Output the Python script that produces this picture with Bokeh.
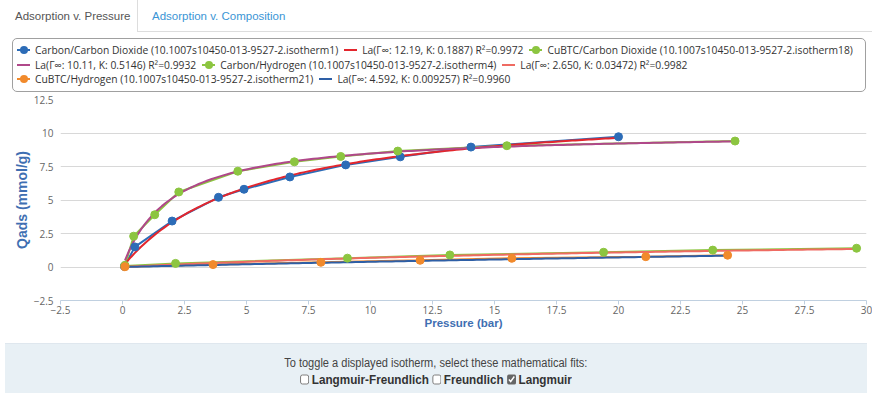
import numpy as np
from bokeh.plotting import figure
from bokeh.layouts import column
from bokeh.models import Range1d, FixedTicker, Div
from bokeh.embed import file_html
from bokeh.resources import INLINE

# ---------------- data ----------------
carbon_co2_p = [0.08, 0.5, 2.0, 3.87, 4.9, 6.75, 9.0, 11.2, 14.05, 20.0]
carbon_co2_q = [0.05, 1.5, 3.43, 5.2, 5.8, 6.72, 7.62, 8.22, 8.95, 9.72]

cubtc_co2_p = [0.1, 0.45, 1.3, 2.27, 4.65, 6.93, 8.8, 11.1, 15.5, 24.7]
cubtc_co2_q = [0.12, 2.3, 3.9, 5.6, 7.15, 7.85, 8.25, 8.65, 9.05, 9.4]

carbon_h2_p = [0.1, 2.14, 9.07, 13.2, 19.4, 23.8, 29.6]
carbon_h2_q = [0.08, 0.27, 0.66, 0.9, 1.1, 1.26, 1.4]

cubtc_h2_p = [0.1, 3.65, 8.0, 12.0, 15.7, 21.1, 24.4]
cubtc_h2_q = [0.02, 0.18, 0.35, 0.5, 0.65, 0.77, 0.88]

# Langmuir fit parameters shown in the legend
fit_gamma = [12.19, 10.11, 2.650, 4.592]
fit_k = [0.1887, 0.5146, 0.03472, 0.009257]

series_names = [
    "Carbon/Carbon Dioxide (10.1007s10450-013-9527-2.isotherm1)",
    "CuBTC/Carbon Dioxide (10.1007s10450-013-9527-2.isotherm18)",
    "Carbon/Hydrogen (10.1007s10450-013-9527-2.isotherm4)",
    "CuBTC/Hydrogen (10.1007s10450-013-9527-2.isotherm21)",
]
fit_names = [
    "La(\u0393\u221e: 12.19, K: 0.1887) R\u00b2=0.9972",
    "La(\u0393\u221e: 10.11, K: 0.5146) R\u00b2=0.9932",
    "La(\u0393\u221e: 2.650, K: 0.03472) R\u00b2=0.9982",
    "La(\u0393\u221e: 4.592, K: 0.009257) R\u00b2=0.9960",
]

x_ticks = [-2.5, 0, 2.5, 5, 7.5, 10, 12.5, 15, 17.5, 20, 22.5, 25, 27.5, 30]
x_tick_labels = ["\u22122.5", "0", "2.5", "5", "7.5", "10", "12.5", "15", "17.5",
                 "20", "22.5", "25", "27.5", "30"]
y_ticks = [-2.5, 0, 2.5, 5, 7.5, 10, 12.5]
y_tick_labels = ["\u22122.5", "0", "2.5", "5", "7.5", "10", "12.5"]

tab_labels = ["Adsorption v. Pressure", "Adsorption v. Composition"]
fit_options = ["Langmuir-Freundlich", "Freundlich", "Langmuir"]
fit_checked = [False, False, True]

# ---------------- styles ----------------
series_colors = ["#2c6cb7", "#8cc540", "#8cc540", "#f18a2c"]
fit_colors = ["#e3262d", "#b0488a", "#ef6b62", "#2e5fa6"]

W = 872

# ---------------- tabs (HTML) ----------------
tabs = Div(width=W, height=34, margin=0, text=(
    '<div style="position:relative;width:872px;height:34px;'
    "font-family:'Liberation Sans',Arial,sans-serif;font-size:11.5px;\">"
    '<div style="position:absolute;left:137px;top:0;width:1px;height:31px;background:#dddddd;"></div>'
    '<div style="position:absolute;left:137px;top:31px;width:735px;height:1px;background:#dddddd;"></div>'
    f'<div style="position:absolute;left:15px;top:9px;line-height:14px;color:#555555;">{tab_labels[0]}</div>'
    f'<div style="position:absolute;left:152px;top:9px;line-height:14px;color:#3a95d5;">{tab_labels[1]}</div>'
    '</div>'))

# ---------------- legend (HTML) ----------------
leg_labels = [series_names[0], fit_names[0], series_names[1],
              fit_names[1], series_names[2], fit_names[2],
              series_names[3], fit_names[3]]
leg_colors = [series_colors[0], fit_colors[0], series_colors[1],
              fit_colors[1], series_colors[2], fit_colors[2],
              series_colors[3], fit_colors[3]]
leg_marker = [True, False, True, False, True, False, True, False]
leg_rows = [[0, 1, 2], [3, 4, 5], [6, 7]]
row_tops = [9, 23.5, 38]


def legend_item(i):
    sym = (f'<span style="position:absolute;left:0;top:6px;width:13px;height:2px;'
           f'background:{leg_colors[i]};"></span>')
    if leg_marker[i]:
        sym += (f'<span style="position:absolute;left:2.5px;top:3px;width:8px;height:8px;'
                f'border-radius:50%;background:{leg_colors[i]};"></span>')
    return ('<span style="display:inline-block;margin-right:6px;">'
            '<span style="display:inline-block;position:relative;width:13px;height:14px;'
            f'vertical-align:top;margin-right:5px;">{sym}</span>{leg_labels[i]}</span>')


rows_html = ""
for r, top in zip(leg_rows, row_tops):
    rows_html += (f'<div style="position:absolute;left:17px;top:{top}px;height:14px;'
                  f'line-height:14px;white-space:nowrap;">'
                  + "".join(legend_item(i) for i in r) + '</div>')

legend = Div(width=W, height=58, margin=0, text=(
    '<div style="position:relative;width:872px;height:58px;'
    "font-family:'Open Sans',sans-serif;font-size:10.3px;color:#333333;\">"
    '<div style="position:absolute;left:12px;top:4px;width:854px;height:54px;'
    'box-sizing:border-box;border:1px solid #a0a0a0;border-radius:5px;"></div>'
    + rows_html + '</div>'))

# ---------------- main plot ----------------
p = figure(width=W, height=251, x_range=Range1d(-2.5, 30), y_range=Range1d(-2.5, 12.5),
           min_border_left=60, min_border_right=6, min_border_top=7, min_border_bottom=43,
           toolbar_location=None, output_backend="svg")
p.outline_line_color = None
p.xgrid.visible = False
p.ygrid.grid_line_color = "#d8d8d8"
p.ygrid.grid_line_width = 1

p.xaxis.ticker = FixedTicker(ticks=x_ticks, minor_ticks=[])
p.xaxis.major_label_overrides = {t: l for t, l in zip(x_ticks, x_tick_labels)}
p.yaxis.ticker = FixedTicker(ticks=y_ticks, minor_ticks=[])
p.yaxis.major_label_overrides = {t: l for t, l in zip(y_ticks, y_tick_labels)}

for ax in (p.xaxis[0], p.yaxis[0]):
    ax.major_label_text_font = "Open Sans"
    ax.major_label_text_font_size = "10px"
    ax.major_label_text_color = "#666666"
    ax.axis_label_text_color = "#3f6fb2"
    ax.axis_label_text_font_style = "bold"
    ax.minor_tick_line_color = None

p.xaxis.axis_label = "Pressure (bar)"
p.xaxis.axis_label_text_font = "Liberation Sans"
p.xaxis.axis_label_text_font_size = "11.5px"
p.xaxis.axis_line_color = "#c0d0e0"
p.xaxis.major_tick_line_color = "#c0d0e0"
p.xaxis.major_tick_out = 4
p.xaxis.major_tick_in = 0
p.xaxis.major_label_standoff = 1
p.xaxis.axis_label_standoff = 0

p.yaxis.axis_label = "Qads (mmol/g)"
p.yaxis.axis_label_text_font = "Liberation Sans"
p.yaxis.axis_label_text_font_size = "14px"
p.yaxis.axis_line_color = None
p.yaxis.major_tick_line_color = None
p.yaxis.major_tick_out = 0
p.yaxis.major_tick_in = 0
p.yaxis.major_label_standoff = 7
p.yaxis.axis_label_standoff = 1

all_p = [carbon_co2_p, cubtc_co2_p, carbon_h2_p, cubtc_h2_p]
all_q = [carbon_co2_q, cubtc_co2_q, carbon_h2_q, cubtc_h2_q]

# measured series lines
for xs, ys, c in zip(all_p, all_q, series_colors):
    p.line(xs, ys, line_color=c, line_width=2)

# Langmuir fit curves from the legend parameters
for xs, g, k, c in zip(all_p, fit_gamma, fit_k, fit_colors):
    pp = np.linspace(min(xs), max(xs), 150)
    qq = g * k * pp / (1 + k * pp)
    p.line(pp, qq, line_color=c, line_width=2)

# markers on top
for xs, ys, c in zip(all_p, all_q, series_colors):
    p.scatter(xs, ys, size=8, fill_color=c, line_color=c)

# ---------------- bottom panel (HTML) ----------------
cb = "width:10px;height:11px;margin:0 3px 0 0;vertical-align:-1px;accent-color:#666;"
opts = " ".join(
    f'<label><input type="checkbox"{" checked" if chk else ""} style="{cb}">{name}</label>'
    for name, chk in zip(fit_options, fit_checked))
panel = Div(width=W, height=50, margin=0, text=(
    '<div style="position:relative;width:872px;height:50px;">'
    '<div style="position:absolute;left:5px;top:0;width:862px;height:50px;background:#e8f0f5;'
    'border-top:1px solid #dfe7ee;box-sizing:border-box;text-align:center;color:#444;'
    "font-family:'Liberation Sans',Arial,sans-serif;\">"
    '<div style="position:absolute;left:0;right:0;top:12px;line-height:14px;font-size:12px;">'
    '<span style="display:inline-block;transform:scaleX(0.92);">'
    'To toggle a displayed isotherm, select these mathematical fits:</span></div>'
    '<div style="position:absolute;left:0;right:0;top:29px;line-height:14px;font-size:13px;'
    'font-weight:bold;color:#333;">'
    f'<span style="display:inline-block;transform:scaleX(0.9);">{opts}</span></div>'
    '</div></div>'))

layout = column(tabs, legend, p, panel, spacing=0)
open("out.html", "w").write(file_html(layout, INLINE))
